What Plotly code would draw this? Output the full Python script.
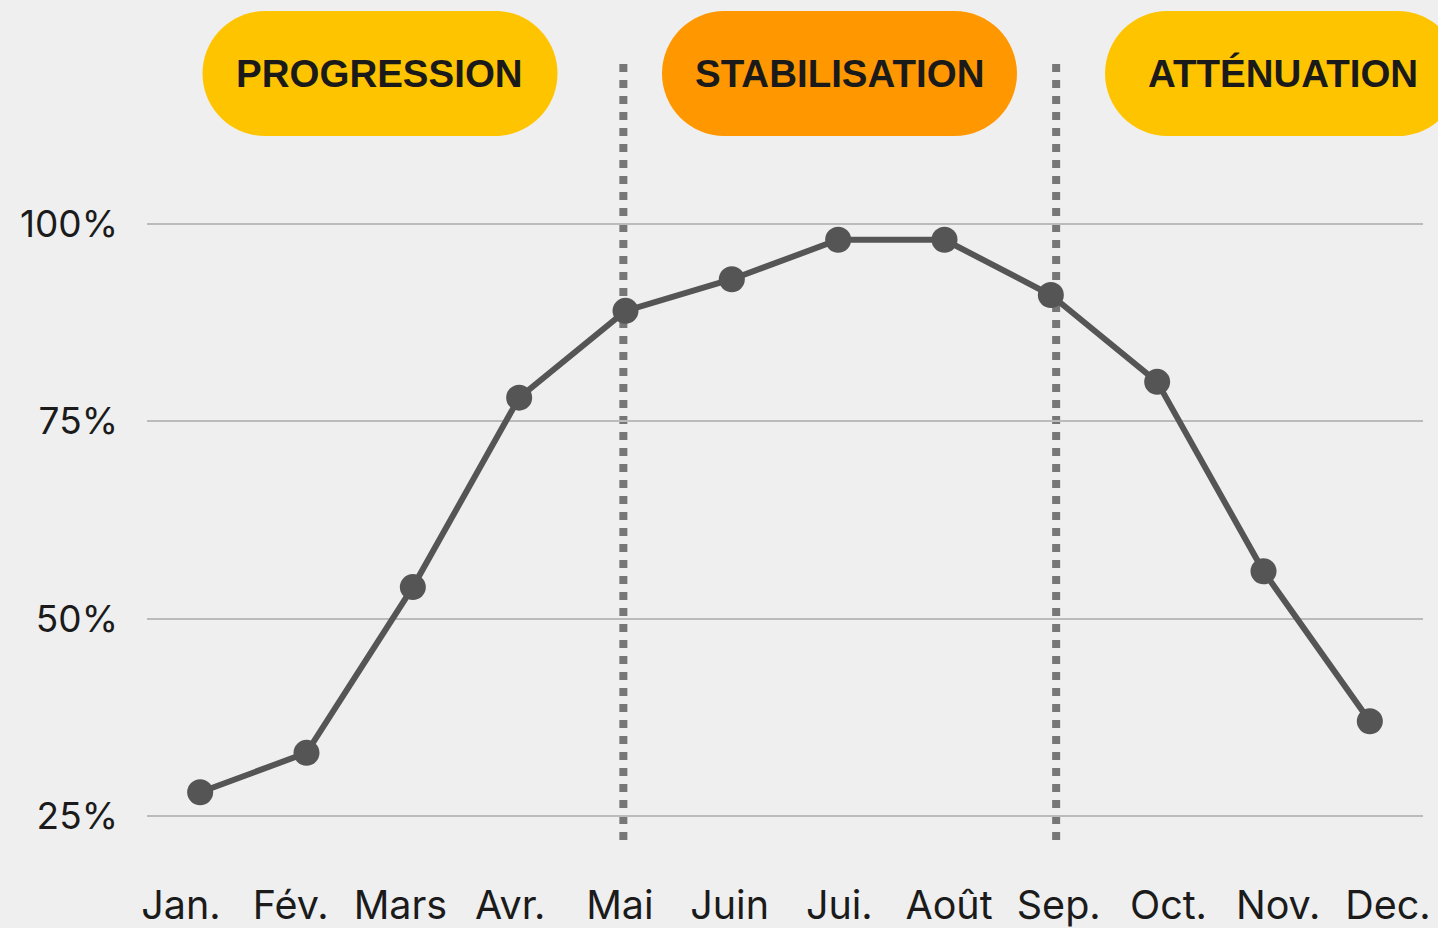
import plotly.graph_objects as go

months = ["Jan.", "Fév.", "Mars", "Avr.", "Mai", "Juin", "Jui.", "Août", "Sep.", "Oct.", "Nov.", "Dec."]
values = [28, 33, 54, 78, 89, 93, 98, 98, 91, 80, 56, 37]
y_ticks = [25, 50, 75, 100]
y_labels = ["25%", "50%", "75%", "100%"]

phases = ["PROGRESSION", "STABILISATION", "ATTÉNUATION"]
phase_colors = ["#FFC400", "#FF9800", "#FFC400"]
phase_centers = [0.1826, 0.5427, 0.8899]  # paper x of each pill
phase_breaks = [3.98, 8.05]  # dotted separators, in category units

BG = "#EFEFEF"
W, H = 1438, 928
FONT = "Inter, Roboto, sans-serif"


def pill_path(half_w, half_h):
    # rounded capsule drawn in pixels around its anchor
    r = half_h
    a = half_w - r
    k = 0.5523 * r
    return (f"M {-a},{-r} L {a},{-r} "
            f"C {a + k},{-r} {a + r},{-k} {a + r},0 "
            f"C {a + r},{k} {a + k},{r} {a},{r} "
            f"L {-a},{r} "
            f"C {-a - k},{r} {-a - r},{k} {-a - r},0 "
            f"C {-a - r},{-k} {-a - k},{-r} {-a},{-r} Z")


fig = go.Figure()
fig.add_trace(go.Scatter(
    x=months, y=values,
    mode="lines+markers",
    line=dict(color="#555555", width=6),
    marker=dict(color="#555555", size=26),
    hoverinfo="skip",
    showlegend=False,
))
# empty trace so the label axis (slightly wider spread than the points) is drawn
fig.add_trace(go.Scatter(x=[], y=[], xaxis="x2", showlegend=False, hoverinfo="skip"))

shapes = []
annotations = []
for name, col, cx in zip(phases, phase_colors, phase_centers):
    shapes.append(dict(
        type="path", xref="paper", yref="paper",
        xsizemode="pixel", ysizemode="pixel",
        xanchor=cx, yanchor=0.9129,
        path=pill_path(177.5, 62.5),
        fillcolor=col, line=dict(width=0), layer="above",
    ))
    annotations.append(dict(
        x=cx, y=0.9129, xref="paper", yref="paper",
        text=f"<b>{name}</b>", showarrow=False,
        font=dict(family="Liberation Sans, Arial, sans-serif", size=38.5, color="#1a1a1a"),
        xanchor="center", yanchor="middle",
    ))

for xb in phase_breaks:
    shapes.append(dict(
        type="line", xref="x", yref="paper",
        x0=xb, x1=xb, y0=0.0047, y1=0.9313,
        line=dict(color="#777777", width=8, dash="dot"),
        layer="between",
    ))

fig.update_layout(
    width=W, height=H,
    margin=dict(l=147, r=15, t=0, b=84, autoexpand=False),
    paper_bgcolor=BG, plot_bgcolor=BG,
    shapes=shapes, annotations=annotations,
    font=dict(family=FONT, color="#1b1b1b"),
    xaxis=dict(
        range=[-0.5, 11.5], showgrid=False, zeroline=False, showline=False,
        ticks="", showticklabels=False, automargin=False,
    ),
    xaxis2=dict(
        overlaying="x", anchor="y", side="bottom",
        range=[-0.31, 11.32], tickmode="array",
        tickvals=list(range(len(months))), ticktext=months,
        showgrid=False, zeroline=False, showline=False, ticks="",
        tickfont=dict(family=FONT, size=39.5, color="#1b1b1b"),
        ticklabelstandoff=34, automargin=False,
    ),
    yaxis=dict(
        range=[21.45, 128.38], tickvals=y_ticks, ticktext=y_labels,
        showgrid=True, gridcolor="#BBBBBB", gridwidth=2,
        zeroline=False, showline=False, ticks="",
        tickfont=dict(family=FONT, size=37, color="#1b1b1b"),
        ticklabelstandoff=28, automargin=False,
    ),
)

fig.write_html(
    "out.html",
    config={"displayModeBar": False},
    post_script="document.body.style.margin='0';document.body.style.overflow='hidden';",
)
